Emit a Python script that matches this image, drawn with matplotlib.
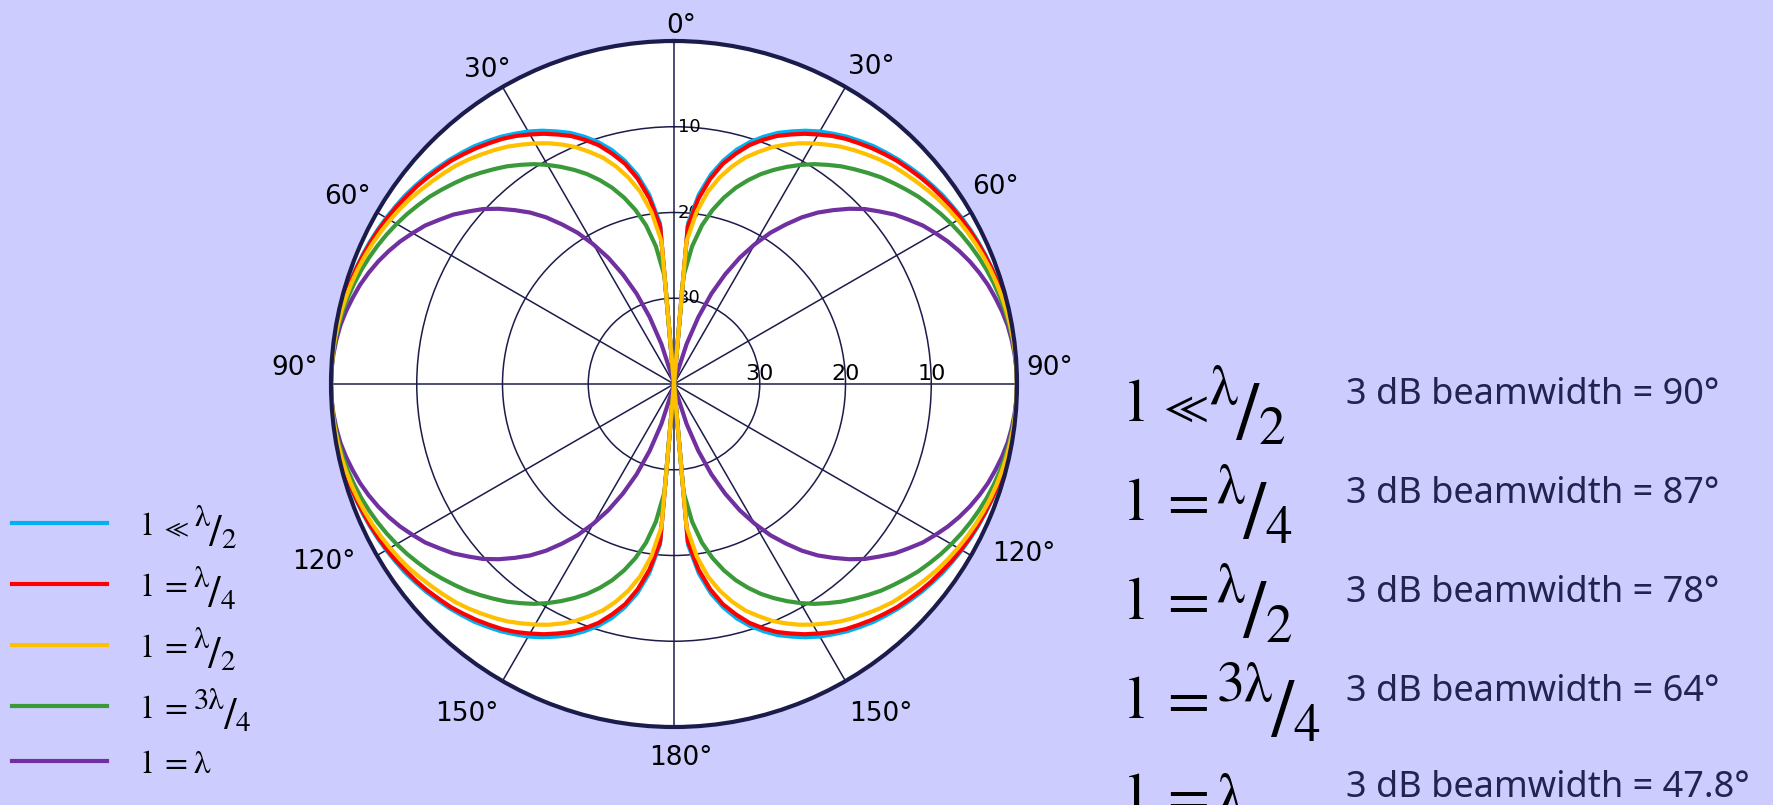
import numpy as np
import matplotlib
matplotlib.use('Agg')
import matplotlib.pyplot as plt
from matplotlib.lines import Line2D
from matplotlib import transforms

# angle from the dipole axis over one quadrant (degrees)
angles = [0, 5, 7.5, 10, 12.5, 15, 17.5, 20, 22.5, 25, 27.5, 30, 32.5, 35, 37.5, 40,
          42.5, 45, 47.5, 50, 52.5, 55, 57.5, 60, 62.5, 65, 67.5, 70, 72.5, 75,
          77.5, 80, 82.5, 85, 87.5, 90]

# normalised radiation pattern (dB) for each dipole length, clipped at -40 dB
short_db = [-40, -21.2, -17.7, -15.2, -13.3, -11.7, -10.4, -9.3, -8.3, -7.5, -6.7, -6.0,
            -5.4, -4.8, -4.3, -3.8, -3.4, -3.0, -2.65, -2.3, -2.0, -1.7, -1.48, -1.25,
            -1.04, -0.85, -0.69, -0.54, -0.41, -0.30, -0.21, -0.13, -0.07, -0.03, -0.01, 0]
quarter_db = [-40, -21.6, -18.2, -15.7, -13.7, -12.2, -10.8, -9.7, -8.7, -7.9, -7.1, -6.4,
              -5.7, -5.1, -4.6, -4.1, -3.65, -3.2, -2.86, -2.5, -2.17, -1.9, -1.61, -1.36,
              -1.14, -0.94, -0.76, -0.59, -0.45, -0.33, -0.23, -0.15, -0.08, -0.04, -0.01, 0]
half_db = [-40, -23.3, -19.75, -17.2, -15.3, -13.7, -12.3, -11.2, -10.1, -9.2, -8.35, -7.6,
           -6.9, -6.2, -5.6, -5.05, -4.5, -4.0, -3.6, -3.2, -2.8, -2.4, -2.07, -1.76,
           -1.48, -1.22, -0.99, -0.78, -0.60, -0.44, -0.30, -0.2, -0.11, -0.05, -0.01, 0]
three_quarter_db = [-40, -27.4, -23.8, -21.2, -19.2, -17.5, -16.0, -14.7, -13.5, -12.45,
                    -11.45, -10.5, -9.6, -8.8, -8.0, -7.3, -6.6, -5.9, -5.3, -4.7, -4.1,
                    -3.6, -3.1, -2.65, -2.23, -1.85, -1.5, -1.18, -0.91, -0.67, -0.47,
                    -0.3, -0.17, -0.07, -0.02, 0]
full_db = [-40, -40, -40, -40, -40, -39.1, -35.1, -31.7, -28.6, -25.9, -23.4, -21.2,
           -19.1, -17.3, -15.5, -13.9, -12.5, -11.1, -9.8, -8.7, -7.55, -6.6, -5.6, -4.8,
           -4.0, -3.3, -2.66, -2.1, -1.6, -1.2, -0.82, -0.5, -0.29, -0.13, -0.03, 0]

series = [short_db, quarter_db, half_db, three_quarter_db, full_db]
colors = ['#00B0F0', '#FF0000', '#FFC000', '#3A9A3A', '#7030A0']
zorders = [3.0, 3.1, 3.4, 3.3, 3.2]

# label pieces: left side, relation, numerator, denominator
length_labels = [('l', '≪', 'λ', '2'), ('l', '=', 'λ', '4'), ('l', '=', 'λ', '2'),
                 ('l', '=', '3λ', '4'), ('l', '=', 'λ', None)]
beamwidths = ['90°', '87°', '78°', '64°', '47.8°']

theta_ticks = [0, 30, 60, 90, 120, 150, 180, 210, 240, 270, 300, 330]
theta_labels = ['0°', '30°', '60°', '90°', '120°', '150°', '180°',
                '150°', '120°', '90°', '60°', '30°']
# where each angle label sits around the chart (pixels from top-left)
theta_label_px = [(681, 26), (871, 67), (995, 187), (1050, 368), (1024, 554), (881, 714),
                  (681, 758), (467, 714), (324, 562), (295, 368), (347, 197), (487, 70)]
r_ticks = [-30, -20, -10]
r_tick_labels = ['30', '20', '10']

W, H = 1774, 805
BG = '#CCCCFF'
NAVY = '#1C1C4C'
MATH_FONT = ['STIXGeneral', 'DejaVu Serif', 'DejaVu Sans']
SLASH_FONT = ['DejaVu Serif']


def fx(px):
    return px / W


def fy(py):
    return 1 - py / H


def full_circle(values):
    # the pattern is symmetric about both axes, so mirror the quadrant
    a = np.array(angles, float)
    v = np.array(values, float)
    th = np.concatenate([a, 180 - a[::-1][1:], 180 + a[1:], 360 - a[::-1][1:]])
    r = np.concatenate([v, v[::-1][1:], v[1:], v[::-1][1:]])
    return np.radians(th), r


fig = plt.figure(figsize=(W / 100, H / 100), dpi=100, facecolor=BG)
cx, cy, rad = 674, 384, 343
ax = fig.add_axes([fx(cx - rad), fy(cy + rad), 2 * rad / W, 2 * rad / H], projection='polar')
ax.set_facecolor('white')
ax.set_theta_zero_location('N')
ax.set_theta_direction(-1)
ax.set_ylim(-40, 0)

for vals, c, z in zip(series, colors, zorders):
    th, r = full_circle(vals)
    ax.plot(th, r, color=c, lw=3, zorder=z, solid_joinstyle='round')

ax.set_xticks(np.radians(theta_ticks))
ax.set_xticklabels([])
ax.set_yticks(r_ticks)
ax.set_yticklabels([])
ax.grid(color=NAVY, lw=1.1)
ax.spines['polar'].set_color(NAVY)
ax.spines['polar'].set_linewidth(3)
ax.spines['polar'].set_zorder(4)

for lab, (px, py) in zip(theta_labels, theta_label_px):
    fig.text(fx(px), fy(py), lab, fontsize=19, color='black', ha='center', va='center')

# radial scale labels along the horizontal and vertical axes
for r, lab in zip(r_ticks, r_tick_labels):
    ax.text(np.radians(90), r, lab, ha='center', va='bottom', fontsize=16,
            color='black', zorder=2)
    off = transforms.offset_copy(ax.transData, fig=fig, x=4, y=0, units='dots')
    ax.text(0, r, lab, ha='left', va='center', fontsize=13, color='black',
            zorder=2, transform=off)

renderer = fig.canvas.get_renderer()


def draw_length(x, y, parts, size, gaps):
    # l = num/den drawn piece by piece so the fraction can be raised/lowered
    lhs, rel, num, den = parts
    px = size * 100 / 72
    rel_k = 0.75 if rel == '≪' else 1.0
    g_rel, g_num = gaps[rel]
    pieces = [(lhs, 1.0, 0.0, 0.0, MATH_FONT), (rel, rel_k, 0.0, g_rel, MATH_FONT)]
    if den is None:
        pieces.append((num, 1.0, 0.0, g_num, MATH_FONT))
    else:
        pieces += [(num, 0.92, 0.28, g_num, MATH_FONT),
                   ('/', 1.15, -0.21, -0.03, SLASH_FONT),
                   (den, 0.87, -0.38, -0.02, MATH_FONT)]
    cur = x
    for s, k, dy, gap, fam in pieces:
        t = fig.text(fx(cur + gap * px), fy(y - dy * px), s, fontsize=size * k,
                     family=fam, color='black', ha='left', va='baseline')
        cur = t.get_window_extent(renderer).x1


# legend on the left
legend_line_y = [523, 584, 645, 706, 761]
legend_base_y = [535, 596, 657, 718, 773]
legend_gaps = {'≪': (0.4, 0.2), '=': (0.4, 0.2)}
for c, ly, by, parts in zip(colors, legend_line_y, legend_base_y, length_labels):
    fig.add_artist(Line2D([fx(12), fx(107)], [fy(ly), fy(ly)], transform=fig.transFigure,
                          color=c, lw=3))
    draw_length(142, by, parts, 24, legend_gaps)

# beamwidth table on the right
math_base_y = [421, 520, 619, 718, 815]
text_base_y = [404, 503, 602, 701, 797]
table_gaps = {'≪': (0.32, 0.04), '=': (0.37, 0.12)}
for parts, bw, my, ty in zip(length_labels, beamwidths, math_base_y, text_base_y):
    draw_length(1128, my, parts, 44, table_gaps)
    fig.text(fx(1346), fy(ty), f'3 dB beamwidth = {bw}', fontsize=26, family='Noto Sans',
             color='#23234F', ha='left', va='baseline')

fig.savefig('out.png', dpi=100, facecolor=BG)
